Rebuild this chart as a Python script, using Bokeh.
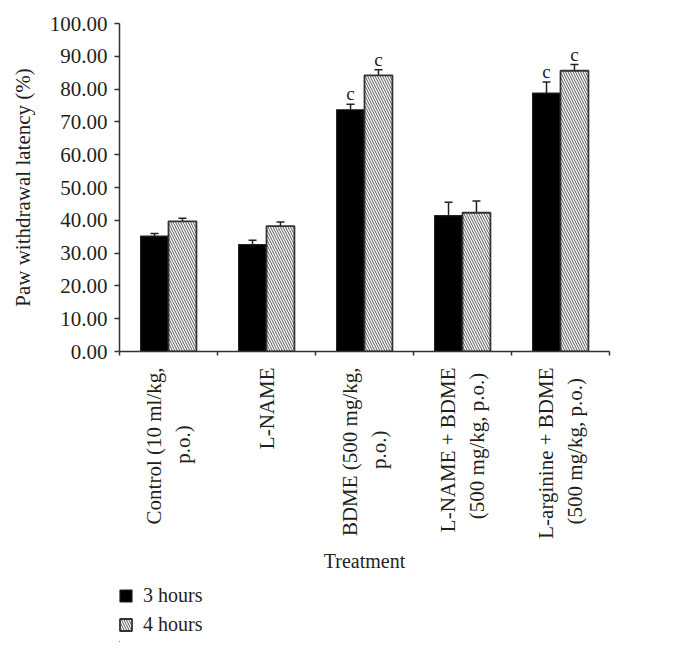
import math
from bokeh.plotting import figure
from bokeh.layouts import column
from bokeh.models import (ColumnDataSource, Range1d, LinearAxis, FixedTicker,
                          PrintfTickFormatter, Whisker, TeeHead, Legend, LegendItem)
from bokeh.core.properties import value
from bokeh.embed import file_html
from bokeh.resources import INLINE

# ---- data ----
categories = ["Control (10 ml/kg,\np.o.)", "L-NAME", "BDME (500 mg/kg,\np.o.)",
              "L-NAME + BDME\n(500 mg/kg, p.o.)", "L-arginine + BDME\n(500 mg/kg, p.o.)"]
series_names = ["3 hours", "4 hours"]
mean_3h = [35.2, 32.6, 73.7, 41.4, 78.8]
err_3h = [0.8, 1.3, 1.7, 4.1, 3.4]
mean_4h = [39.7, 38.2, 84.2, 42.3, 85.6]
err_4h = [0.9, 1.3, 1.7, 3.6, 1.9]
sig_3h = ["", "", "c", "", "c"]
sig_4h = ["", "", "c", "", "c"]
y_ticks = [0, 10, 20, 30, 40, 50, 60, 70, 80, 90, 100]

# style: centre the second line of each rotated label under the first
second_line_pad = [11, 0, 12, 1, 2]

FONT = "Liberation Serif"
TXT = "#231f20"
bar_w = 0.285
n = len(categories)
centers = [i + 0.5 for i in range(n)]
bounds = list(range(n + 1))

def padded(label, k):
    if "\n" not in label or k == 0:
        return label
    a, b = label.split("\n", 1)
    return a + "\n" + b + "\u00a0" * k

tick_labels = {c: padded(lab, k) for c, lab, k in zip(centers, categories, second_line_pad)}

p = figure(width=664, height=580, x_range=Range1d(0, n), y_range=Range1d(0, 100),
           output_backend="svg", toolbar_location=None,
           min_border_left=119, min_border_top=23, min_border_right=55, min_border_bottom=229)
p.outline_line_color = None
p.grid.grid_line_color = None

def make_src(means, errs, sig, shift):
    xs = [c + shift for c in centers]
    return ColumnDataSource(dict(x=xs, top=means, lower=means,
                                 upper=[m + e for m, e in zip(means, errs)], sig=sig))

s3 = make_src(mean_3h, err_3h, sig_3h, -bar_w / 2)
s4 = make_src(mean_4h, err_4h, sig_4h, bar_w / 2)

bar3 = dict(fill_color="black", line_color="#222222", line_width=1.2)
bar4 = dict(fill_color="white", line_color="#333333", line_width=1.8,
            hatch_pattern="\\", hatch_color="#555555", hatch_scale=5, hatch_weight=1)

p.vbar(x="x", top="top", width=bar_w, bottom=0, source=s3, **bar3)
p.vbar(x="x", top="top", width=bar_w, bottom=0, source=s4, **bar4)

for s in (s3, s4):
    w = Whisker(base="x", upper="upper", lower="lower", source=s, dimension="height",
                lower_head=None,
                upper_head=TeeHead(size=8, line_color="#222222", line_width=1.5),
                line_color="#222222", line_width=1.5)
    p.add_layout(w)
    p.text(x="x", y="upper", text="sig", source=s, text_font=value(FONT),
           text_font_size="19px", text_align="center", text_baseline="bottom",
           y_offset=0, text_color=TXT)

# y axis
ya = p.yaxis[0]
ya.ticker = FixedTicker(ticks=y_ticks)
ya.formatter = PrintfTickFormatter(format="%.2f")
ya.axis_label = "Paw withdrawal latency (%)"
ya.axis_label_text_font = FONT
ya.axis_label_text_font_style = "normal"
ya.axis_label_text_font_size = "21px"
ya.axis_label_text_color = TXT
ya.axis_label_standoff = 12
ya.major_label_text_font = FONT
ya.major_label_text_font_size = "21px"
ya.major_label_text_color = TXT
ya.major_label_standoff = 7
ya.major_tick_out = 5
ya.major_tick_in = 0
ya.minor_tick_line_color = None
ya.axis_line_color = "#333333"
ya.axis_line_width = 1.5
ya.major_tick_line_color = "#333333"
ya.major_tick_line_width = 1.5

# x axis (ticks at category boundaries, no labels)
xa = p.xaxis[0]
xa.ticker = FixedTicker(ticks=bounds)
xa.major_label_overrides = {b: "" for b in bounds}
xa.major_label_text_font_size = "0px"
xa.major_label_standoff = 0
xa.major_tick_out = 4
xa.major_tick_in = 0
xa.minor_tick_line_color = None
xa.axis_line_color = "#333333"
xa.axis_line_width = 1.5
xa.major_tick_line_color = "#333333"
xa.major_tick_line_width = 1.5

# category label axis
xa2 = LinearAxis(ticker=FixedTicker(ticks=centers), major_label_overrides=tick_labels)
xa2.axis_line_color = None
xa2.major_tick_line_color = None
xa2.minor_tick_line_color = None
xa2.major_label_orientation = math.pi / 2
xa2.major_label_text_font = FONT
xa2.major_label_text_font_size = "21px"
xa2.major_label_text_color = TXT
xa2.major_label_standoff = 6
xa2.axis_label = "Treatment"
xa2.axis_label_text_font = FONT
xa2.axis_label_text_font_style = "normal"
xa2.axis_label_text_font_size = "20px"
xa2.axis_label_text_color = TXT
xa2.axis_label_standoff = 8
p.add_layout(xa2, "below")

# legend figure (its bars lie far outside its ranges, only the legend shows)
p2 = figure(width=664, height=62, x_range=Range1d(1000, 1005), y_range=Range1d(1000, 1001),
            output_backend="svg", toolbar_location=None, min_border=0,
            x_axis_type=None, y_axis_type=None)
p2.outline_line_color = None
p2.grid.grid_line_color = None
l3 = p2.vbar(x="x", top="top", width=bar_w, bottom=0, source=s3, **bar3)
l4 = p2.vbar(x="x", top="top", width=bar_w, bottom=0, source=s4, **bar4)
legend = Legend(items=[LegendItem(label=series_names[0], renderers=[l3], index=0),
                       LegendItem(label=series_names[1], renderers=[l4], index=0)],
                orientation="vertical", location=(-1, 6),
                border_line_color=None, background_fill_alpha=0,
                glyph_width=15, glyph_height=15, label_text_font=FONT,
                label_text_font_size="20px", label_text_color=TXT,
                label_height=15, spacing=6, padding=0, margin=0, label_standoff=10)
p2.add_layout(legend)

open("out.html", "w").write(file_html(column(p, p2, spacing=0), INLINE))
